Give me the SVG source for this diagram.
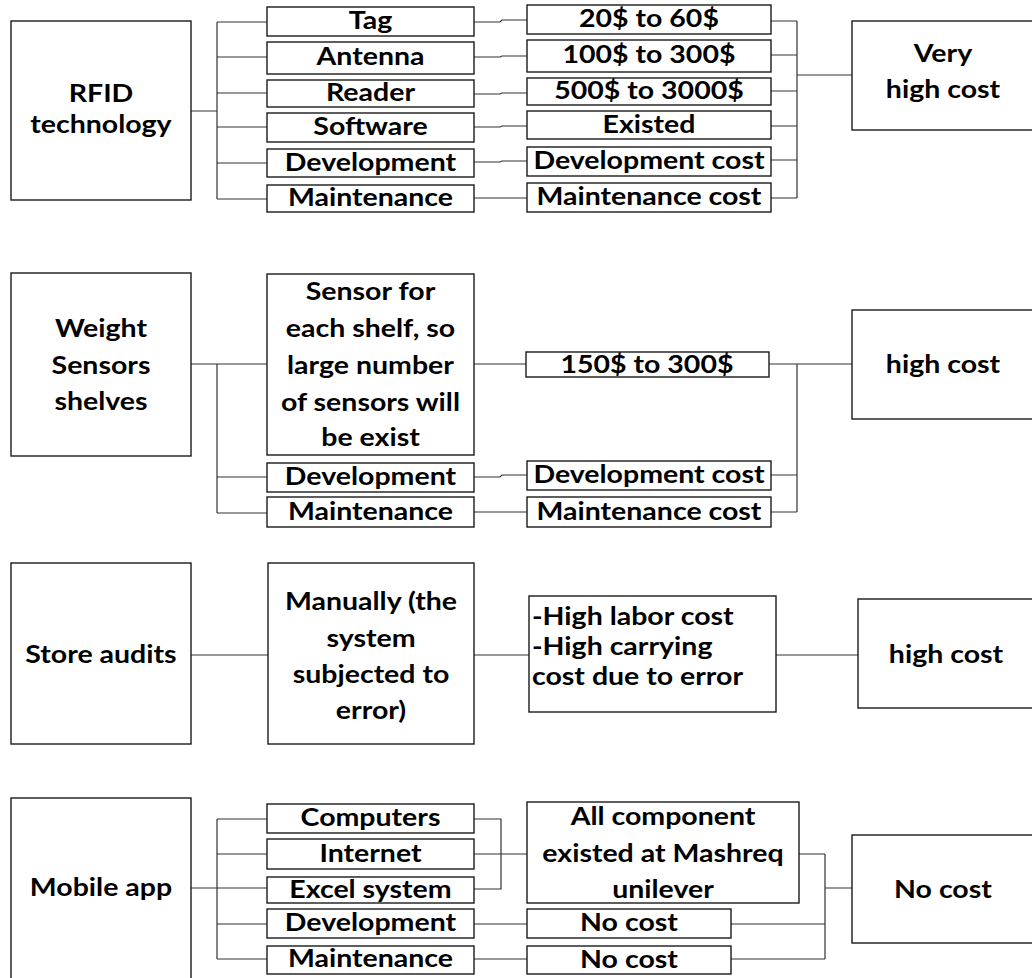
<svg xmlns="http://www.w3.org/2000/svg" width="1032" height="978" viewBox="0 0 1032 978">
<style>
rect{fill:#fff;stroke:#1a1a1a;stroke-width:1.4}
text{font-family:Lato,"Open Sans","DejaVu Sans",sans-serif;font-weight:bold;font-size:25px;fill:#000;text-anchor:middle;transform-box:fill-box;transform-origin:center;transform:scaleX(1.14)}
.l{text-anchor:start;transform-origin:left center}
#connectors path{fill:none;stroke:#333;stroke-width:1.2}
</style>
<rect x="0" y="0" width="1032" height="978" style="fill:#fff;stroke:none"/>
<g id="connectors">
<path d="M191,111 H217 M217,22 V199 M217,22 H267 M217,57 H267 M217,93 H267 M217,127 H267 M217,163 H267 M217,199 H267"/>
<path d="M474,22 H500 L502,20 H527 M474,57 H500 L502,56 H527 M474,94 H500 L502,93 H527 M474,127 H500 L502,126 H527 M474,162 H500 L502,161 H527 M474,198 H527"/>
<path d="M771,21 H797 M771,55 H797 M771,91 H797 M771,126 H797 M771,160 H797 M771,198 H797 M797,21 V198 M797,75 H852"/>
<path d="M191,364 H217 M217,364 V513 M217,364 H267 M217,477 H267 M217,513 H267"/>
<path d="M474,364 H526 M474,477 H500 L502,475 H527 M474,512 H527"/>
<path d="M769,364 H797 M771,475 H797 M771,512 H797 M797,364 V512 M797,364 H852"/>
<path d="M191,655 H268 M474,655 H529 M776,655 H858"/>
<path d="M191,888 H217 M217,819 V959 M217,819 H267 M217,854 H267 M217,888 H267 M217,924 H267 M217,959 H267"/>
<path d="M474,819 H501 V889 H474 M474,854 H527 M474,924 H527 M474,959 H527"/>
<path d="M799,854 H825 M731,924 H825 M731,959 H825 M825,854 V959 M825,888 H852"/>
</g>

<g id="rfid"><rect x="11" y="21" width="180" height="179"/><text x="101" y="102">RFID</text><text x="101" y="133">technology</text></g>
<g id="tag"><rect x="267" y="7" width="207" height="29"/><text x="370.5" y="29">Tag</text></g>
<g id="antenna"><rect x="267" y="42" width="207" height="32"/><text x="370.5" y="65">Antenna</text></g>
<g id="reader"><rect x="267" y="80" width="207" height="27"/><text x="370.5" y="101">Reader</text></g>
<g id="software"><rect x="267" y="113" width="207" height="29"/><text x="370.5" y="135">Software</text></g>
<g id="dev1"><rect x="267" y="149" width="207" height="28"/><text x="370.5" y="171">Development</text></g>
<g id="maint1"><rect x="267" y="185" width="207" height="27"/><text x="370.5" y="206">Maintenance</text></g>
<g id="c-tag"><rect x="527" y="5" width="244" height="29"/><text x="649" y="27">20$ to 60$</text></g>
<g id="c-antenna"><rect x="527" y="40" width="244" height="32"/><text x="649" y="63">100$ to 300$</text></g>
<g id="c-reader"><rect x="527" y="78" width="244" height="27"/><text x="649" y="99">500$ to 3000$</text></g>
<g id="c-software"><rect x="527" y="111" width="244" height="28"/><text x="649" y="133">Existed</text></g>
<g id="c-dev1"><rect x="527" y="147" width="244" height="29"/><text x="649" y="169">Development cost</text></g>
<g id="c-maint1"><rect x="527" y="183" width="244" height="29"/><text x="649" y="205">Maintenance cost</text></g>
<g id="veryhigh"><rect x="852" y="21" width="190" height="109"/><text x="943" y="62">Very</text><text x="943" y="98">high cost</text></g>

<g id="weight"><rect x="11" y="273" width="180" height="183"/><text x="101" y="337">Weight</text><text x="101" y="374">Sensors</text><text x="101" y="410">shelves</text></g>
<g id="sensor"><rect x="267" y="274" width="207" height="181"/><text x="370.5" y="300">Sensor for</text><text x="370.5" y="337">each shelf, so</text><text x="370.5" y="374">large number</text><text x="370.5" y="411">of sensors will</text><text x="370.5" y="446">be exist</text></g>
<g id="dev2"><rect x="267" y="463" width="207" height="29"/><text x="370.5" y="485">Development</text></g>
<g id="maint2"><rect x="267" y="497" width="207" height="30"/><text x="370.5" y="520">Maintenance</text></g>
<g id="c-sensor"><rect x="526" y="352" width="243" height="25"/><text x="647" y="373">150$ to 300$</text></g>
<g id="c-dev2"><rect x="527" y="461" width="244" height="29"/><text x="649" y="483">Development cost</text></g>
<g id="c-maint2"><rect x="527" y="497" width="244" height="30"/><text x="649" y="520">Maintenance cost</text></g>
<g id="high2"><rect x="852" y="310" width="190" height="109"/><text x="943" y="373">high cost</text></g>

<g id="audits"><rect x="11" y="563" width="180" height="181"/><text x="101" y="663">Store audits</text></g>
<g id="manually"><rect x="268" y="563" width="206" height="181"/><text x="371" y="610">Manually (the</text><text x="371" y="647">system</text><text x="371" y="683">subjected to</text><text x="371" y="719">error)</text></g>
<g id="labor"><rect x="529" y="596" width="247" height="116"/><text class="l" x="532" y="625">-High labor cost</text><text class="l" x="532" y="655">-High carrying</text><text class="l" x="532" y="685">cost due to error</text></g>
<g id="high3"><rect x="858" y="599" width="184" height="109"/><text x="946" y="663">high cost</text></g>

<g id="mobile"><rect x="11" y="798" width="180" height="195"/><text x="101" y="896">Mobile app</text></g>
<g id="computers"><rect x="267" y="804" width="207" height="29"/><text x="370.5" y="826">Computers</text></g>
<g id="internet"><rect x="267" y="839" width="207" height="30"/><text x="370.5" y="862">Internet</text></g>
<g id="excel"><rect x="267" y="877" width="207" height="26"/><text x="370.5" y="898">Excel system</text></g>
<g id="dev4"><rect x="267" y="909" width="207" height="29"/><text x="370.5" y="931">Development</text></g>
<g id="maint4"><rect x="267" y="946" width="207" height="28"/><text x="370.5" y="967">Maintenance</text></g>
<g id="allcomp"><rect x="527" y="802" width="272" height="101"/><text x="663" y="825">All component</text><text x="663" y="862">existed at Mashreq</text><text x="663" y="898">unilever</text></g>
<g id="nocost-dev"><rect x="527" y="909" width="204" height="29"/><text x="629" y="931">No cost</text></g>
<g id="nocost-maint"><rect x="527" y="946" width="204" height="28"/><text x="629" y="968">No cost</text></g>
<g id="nocost"><rect x="852" y="835" width="190" height="108"/><text x="943" y="898">No cost</text></g>
</svg>
